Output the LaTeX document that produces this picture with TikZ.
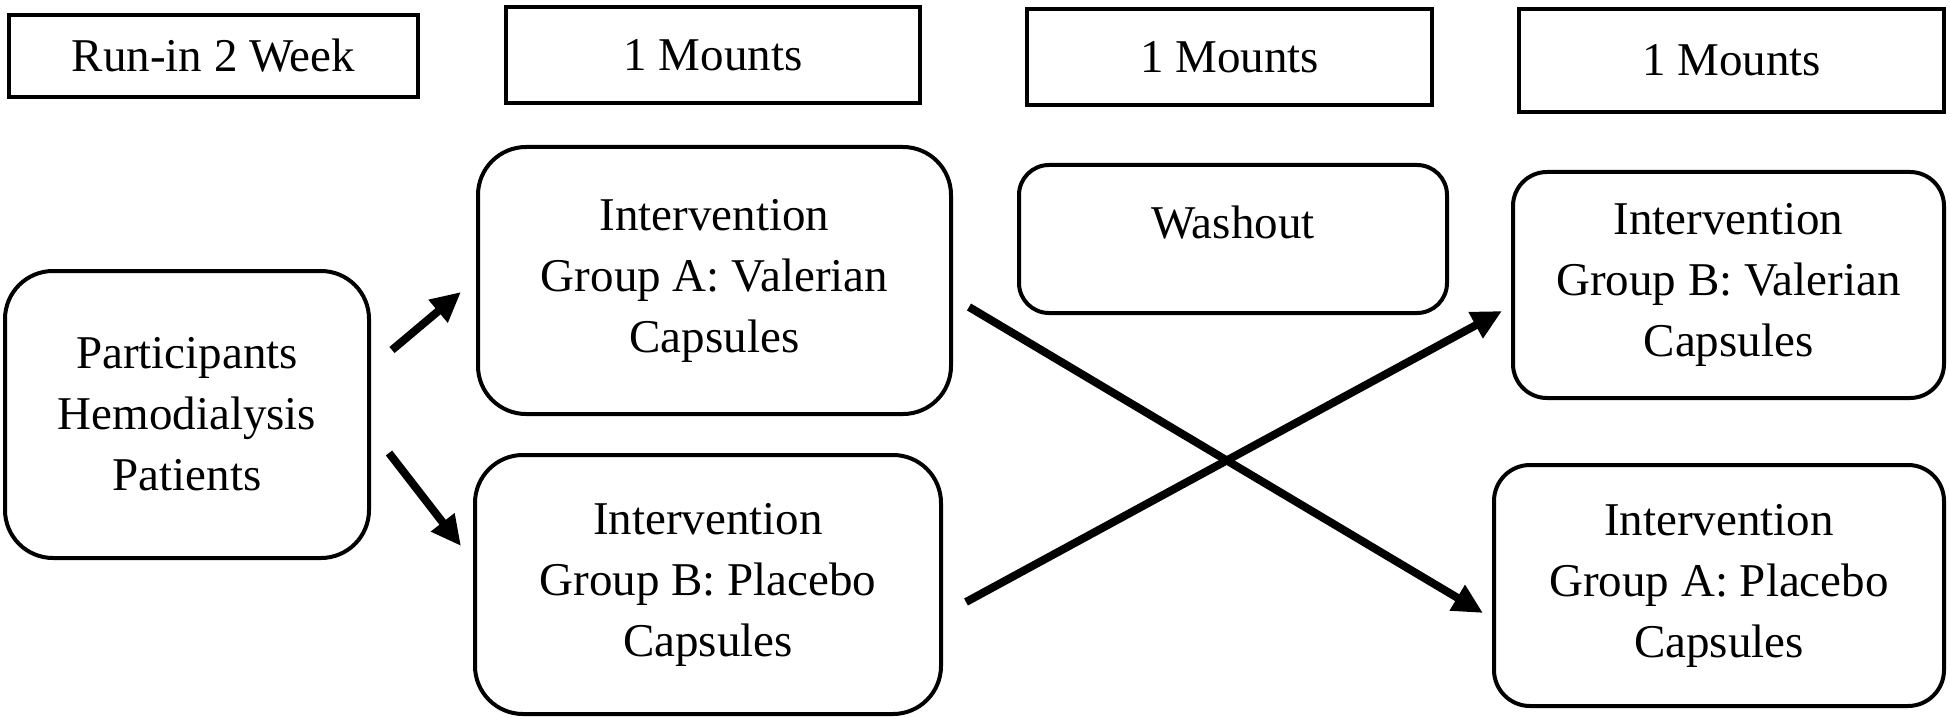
\documentclass[tikz,border=0pt]{standalone}
\usepackage{fontspec}
\setmainfont{Liberation Serif}
\usetikzlibrary{arrows.meta}

\tikzset{
  txt/.style={font=\fontsize{23.5pt}{30.5pt}\selectfont},
  period/.style={txt, draw, line width=2pt, inner sep=0pt},
  arm/.style={txt, draw, line width=2pt, rounded corners=#1, align=center, inner sep=0pt},
  arm/.default=24pt,
  flow/.style={line width=4pt, -{Triangle[length=15pt,width=14pt]}}
}

\begin{document}
\begin{tikzpicture}[x=0.5pt,y=-0.5pt]

	%Fix the frame (pixel units, y going down)
	\useasboundingbox (0,0) rectangle (1950,717);

	%Time line on top
	\node[period, minimum width=204.5pt, minimum height=41pt] (runin)   at (213.5,56)  {Run-in 2 Week};
	\node[period, minimum width=207pt,   minimum height=48pt] (monthA)  at (713,55)    {1 Mounts};
	\node[period, minimum width=202.5pt, minimum height=48pt] (monthB)  at (1229.5,57) {1 Mounts};
	\node[period, minimum width=212.5pt, minimum height=51.5pt] (monthC) at (1731.5,60.5) {1 Mounts};

	%Participants and first period
	\node[arm, minimum width=182pt, minimum height=143.5pt] (parts) at (187,414.5)
		{Participants\\Hemodialysis\\Patients};
	\node[arm, minimum width=236.5pt, minimum height=133.5pt] (aVal) at (714.5,280.5)
		{Intervention\\Group A: Valerian\\Capsules};
	\node[arm, minimum width=233pt, minimum height=129.5pt] (bPla) at (708,584.5)
		{Intervention\\Group B: Placebo\\Capsules};

	%Washout
	\node[arm=15pt, minimum width=214pt, minimum height=74pt] (wash) at (1233,239)
		{Washout\\[-23pt]\strut};

	%Second period
	\node[arm=17pt, minimum width=215.5pt, minimum height=113pt] (bVal) at (1728.5,285)
		{Intervention\\Group B: Valerian\\Capsules};
	\node[arm=18pt, minimum width=225pt, minimum height=120.5pt] (aPla) at (1719,585.5)
		{Intervention\\Group A: Placebo\\Capsules};

	%Arrow ends
	\path (parts.east)+(10.5pt,32.25pt) coordinate (parts_up);
	\path (parts.east)+(9pt,-19.25pt) coordinate (parts_down);
	\path (aVal.west)+(-7.5pt,-5.75pt) coordinate (aVal_in);
	\path (bPla.west)+(-6pt,19.25pt) coordinate (bPla_in);
	\path (aVal.east)+(8pt,-13.25pt) coordinate (aVal_out);
	\path (bPla.east)+(11.5pt,-8.75pt) coordinate (bPla_out);
	\path (aPla.west)+(-4.5pt,-13.75pt) coordinate (aPla_in);
	\path (bVal.west)+(-4.5pt,-13pt) coordinate (bVal_in);

	\draw[flow] (parts_up) -- (aVal_in);
	\draw[flow] (parts_down) -- (bPla_in);
	\draw[flow] (aVal_out) -- (aPla_in);
	\draw[flow] (bPla_out) -- (bVal_in);

\end{tikzpicture}
\end{document}
